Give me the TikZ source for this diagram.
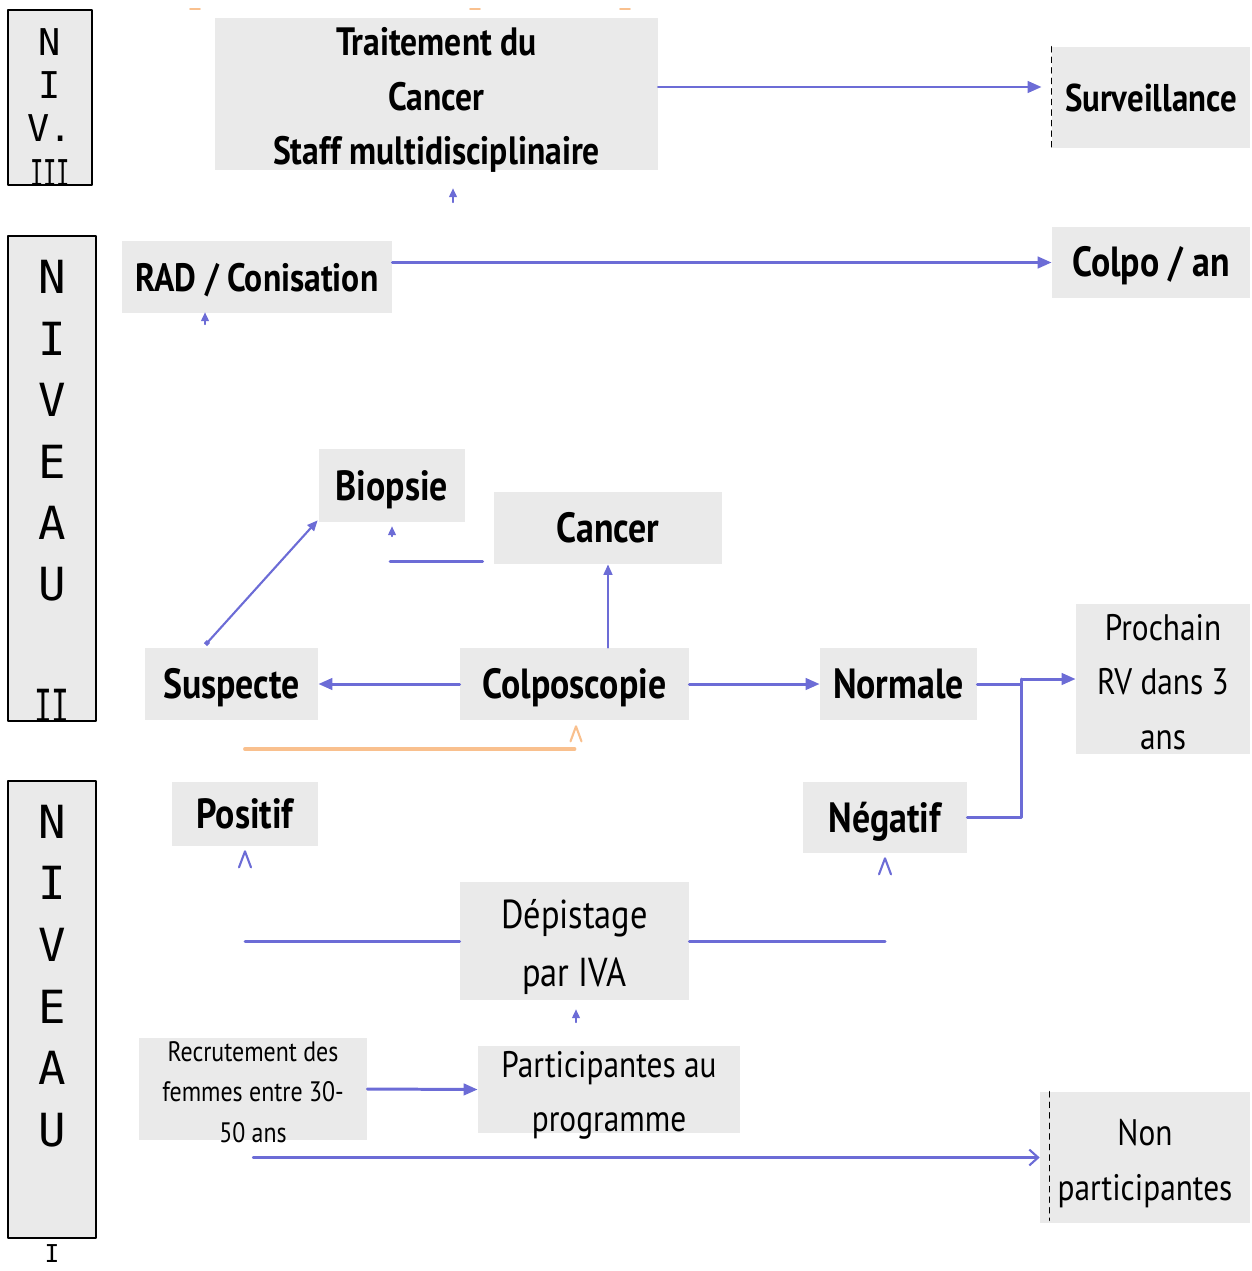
\documentclass[tikz,border=0pt]{standalone}
\usepackage{graphicx}
\usepackage{fontspec}
\setmainfont{PT Sans}[FakeStretch=0.85]
\newfontfamily\lvlfont{DejaVu Sans Mono}
\usetikzlibrary{arrows.meta,calc}

\definecolor{boxgray}{RGB}{234,234,234}
\definecolor{linkblue}{RGB}{108,108,214}
\definecolor{linkorange}{RGB}{249,192,142}

\tikzset{
  box/.style={fill=boxgray,inner sep=0pt,text height=18pt,text depth=1.5pt,
    font=\bfseries\fontsize{24}{28}\selectfont},
  lines/.style={inner sep=0pt,align=center,font=\fontsize{21}{31}\selectfont},
  lvlbox/.style={draw=black,fill=boxgray,line width=0.9pt,inner sep=0pt},
  lvltxt/.style={inner sep=0pt,font=\lvlfont\fontsize{26}{26}\selectfont},
  link/.style={draw=linkblue,line width=1.7pt},
  thinlink/.style={draw=linkblue,line width=1.2pt},
  arr/.style={link,-{Triangle[length=8pt,width=6.5pt]}},
  thinarr/.style={thinlink,-{Triangle[length=6pt,width=5pt]}},
  openarr/.style={thinlink,-{Straight Barb[length=5pt,width=9pt]}},
  stubarr/.style={draw=linkblue,line width=0.8pt,-{Triangle[length=5pt,width=4.5pt]}},
  cut/.style={black,dashed,line width=0.8pt},
  orangeline/.style={draw=linkorange,line width=2.2pt},
}

\begin{document}
\begin{tikzpicture}[x=0.02cm,y=-0.02cm,line cap=round,line join=round]
  \useasboundingbox (0,0) rectangle (1251,1271);

  % niveaux
  \node[lvlbox,minimum width=1.68cm,minimum height=3.5cm] (niv3) at (50,97.5) {};
  \node[lvlbox,minimum width=1.76cm,minimum height=9.7cm] (niv2) at (52,478.5) {};
  \node[lvlbox,minimum width=1.76cm,minimum height=9.14cm] (niv1) at (52,1009.5) {};
  \foreach \t/\y [count=\i] in {N/42,I/85,V./128}
    \node[lvltxt,font=\lvlfont\fontsize{21}{21}\selectfont] (n3-\i) at (50,\y) {\t};
  \node[lvltxt,anchor=base,font=\lvlfont\fontsize{21}{21}\selectfont] (n3-4) at (50,186) {\scalebox{0.6}[1]{III}};
  \foreach \t/\y [count=\i] in {N/277,I/339,V/400,E/462,A/523,U/584}
    \node[lvltxt] (n2-\i) at (52,\y) {\t};
  \node[lvltxt,anchor=base] (n2-7) at (52,722) {\scalebox{0.65}[1]{II}};
  \foreach \t/\y [count=\i] in {N/822,I/883,V/945,E/1007,A/1068,U/1130}
    \node[lvltxt] (n1-\i) at (52,\y) {\t};
  \node[lvltxt,anchor=base,font=\lvlfont\fontsize{14}{14}\selectfont] (n1-7) at (52,1262) {I};

  % niveau III
  \node[fill=boxgray,minimum width=8.86cm,minimum height=3.04cm] (traitement) at (436.5,94) {};
  \node[lines,font=\bfseries\fontsize{22.5}{31}\selectfont] (traitement-t) at ($(traitement)+(0,6)$)
    {Traitement du\\Cancer\\Staff multidisciplinaire};
  \node[box,font=\bfseries\fontsize{22}{26}\selectfont,minimum width=3.96cm,minimum height=2.02cm]
    (surv) at (1151,97.5) {Surveillance};
  \draw[cut] (surv.north west) -- (surv.south west);

  % niveau II
  \node[box,font=\bfseries\fontsize{22.5}{26}\selectfont,minimum width=5.4cm,minimum height=1.44cm]
    (rad) at (257,277) {RAD / Conisation};
  \node[box,minimum width=3.96cm,minimum height=1.42cm] (colpoan) at (1151,262.5) {Colpo / an};
  \node[box,minimum width=2.92cm,minimum height=1.46cm] (biopsie) at (392,485.5) {Biopsie};
  \node[box,minimum width=4.56cm,minimum height=1.44cm] (cancer) at (608,528) {Cancer};
  \node[box,minimum width=3.46cm,minimum height=1.44cm] (suspecte) at (231.5,684) {Suspecte};
  \node[box,minimum width=4.58cm,minimum height=1.44cm] (colposc) at (574.5,684) {Colposcopie};
  \node[box,minimum width=3.14cm,minimum height=1.44cm] (normale) at (898.5,684) {Normale};
  \node[fill=boxgray,minimum width=3.48cm,minimum height=3cm] (prochain) at (1163,679) {};
  \node[lines] (prochain-t) at ($(prochain)+(0,3)$) {Prochain\\RV dans 3\\ans};

  % niveau I
  \node[box,minimum width=2.92cm,minimum height=1.28cm] (positif) at (245,814) {Positif};
  \node[box,minimum width=3.28cm,minimum height=1.42cm] (negatif) at (885,817.5) {Négatif};
  \node[fill=boxgray,minimum width=4.58cm,minimum height=2.36cm] (depist) at (574.5,941) {};
  \node[lines,font=\fontsize{23}{33}\selectfont] (depist-t) at ($(depist)+(0,6)$) {Dépistage\\par IVA};
  \node[fill=boxgray,minimum width=4.56cm,minimum height=2.04cm] (recrut) at (253,1089) {};
  \node[lines,font=\fontsize{16}{23}\selectfont] (recrut-t) at ($(recrut)+(0,3)$)
    {Recrutement des\\femmes entre 30-\\50 ans};
  \node[fill=boxgray,minimum width=5.24cm,minimum height=1.74cm] (particip) at (609,1089.5) {};
  \node[lines] (particip-t) at ($(particip)+(0,6)$) {Participantes au\\programme};
  \node[fill=boxgray,minimum width=4.2cm,minimum height=2.62cm] (nonpart) at (1145,1157.5) {};
  \node[lines] (nonpart-t) at ($(nonpart)+(0,6)$) {Non\\participantes};
  \draw[cut] ($(nonpart.north west)+(10,0)$) -- ($(nonpart.south west)+(10,-3)$);

  % liaisons
  \draw[arr] ($(traitement.east)+(0,-7)$) -- ($(surv.west)+(-10,-10.5)$);
  \draw[arr] (rad.east |- colpoan.west) -- (colpoan.west);
  \draw[arr] (colposc.west) -- (suspecte.east);
  \draw[arr] (colposc.east) -- (normale.west);
  \draw[thinarr] (cancer.south |- colposc.north) -- (cancer.south);
  \draw[thinlink,{Square[length=2.5pt,width=2.5pt]}-{Triangle[length=6pt,width=5pt]}]
    ($(suspecte.north)+(-26,-3)$) -- ($(biopsie.south west)+(-1,-2)$);
  \draw[link] ($(biopsie.south)+(-2,39)$) -- ($(cancer.south west)+(-11,-3)$);
  \coordinate (jn) at (1021,679);
  \draw[arr] (normale.east) -- (normale.east -| jn) -- (jn) -- (prochain.west);
  \draw[link] (negatif.east) -| (jn);
  \draw[link] (depist.west) -- (positif.south |- depist.west);
  \draw[link] (depist.east) -- (negatif.south |- depist.east);
  \draw[arr] (recrut.east) -- (particip.west);
  \draw[openarr] (recrut.south |- nonpart.west) -- (nonpart.west);
  \draw[orangeline] (245,749) -- (colposc.south |- 0,749);

  % pointes isolees
  \draw[stubarr] ($(traitement.south)+(16.5,32)$) -- ($(traitement.south)+(16.5,18)$);
  \draw[stubarr] ($(rad.south)+(-52,11)$) -- ($(rad.south)+(-52,-1)$);
  \draw[stubarr] ($(biopsie.south)+(0,14)$) -- ($(biopsie.south)+(0,4)$);
  \draw[stubarr] ($(depist.south)+(1.5,22)$) -- ($(depist.south)+(1.5,9)$);
  \draw[thinlink] ($(positif.south)+(-6,21)$) -- ($(positif.south)+(0,5)$) -- ($(positif.south)+(6,21)$);
  \draw[thinlink] ($(negatif.south)+(-6,21)$) -- ($(negatif.south)+(0,5)$) -- ($(negatif.south)+(6,21)$);
  \draw[orangeline,line width=1.2pt] ($(colposc.south)+(-4,21)$) -- ($(colposc.south)+(1.5,6)$) -- ($(colposc.south)+(7,21)$);
  \foreach \x in {195,475,625}
    \draw[orangeline,line width=1pt] (\x-5,9) -- (\x+5,9);
\end{tikzpicture}
\end{document}
